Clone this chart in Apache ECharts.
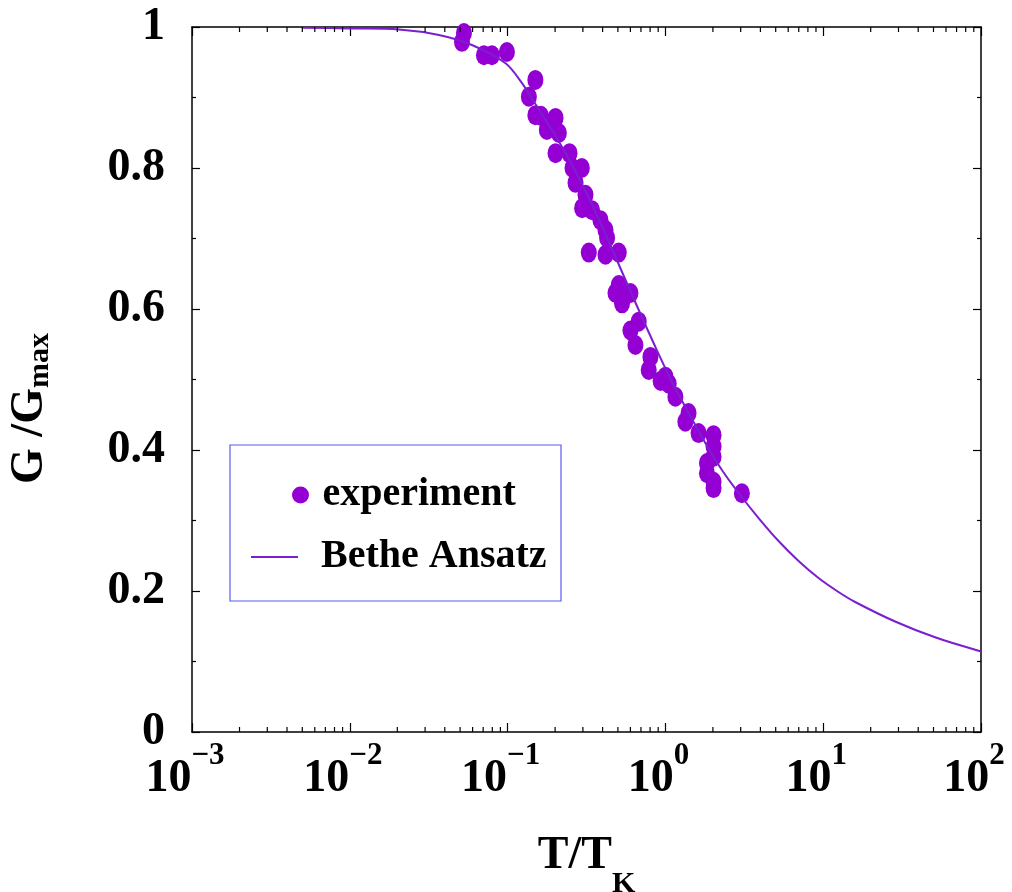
<!DOCTYPE html>
<html>
<head>
<meta charset="utf-8">
<script src="https://cdn.jsdelivr.net/npm/echarts@6/dist/echarts.min.js"></script>
<style>
html,body{margin:0;padding:0;background:#fff;}
#chart{width:1012px;height:892px;}
</style>
</head>
<body>
<div id="chart"></div>
<script>
// experimental points: [T/T_K, G/G_max]
const experimentT = [0.0529,0.0514,0.0708,0.0796,0.0990,0.150,0.1364,0.150,0.1626,0.2013,0.1773,0.2112,0.2013,0.2468,0.2578,0.2954,0.2694,0.3116,0.2967,0.3430,0.3878,0.4172,0.4270,0.3270,0.4172,0.5062,0.5062,0.4827,0.6005,0.5312,0.6776,0.6005,0.6457,0.8038,0.7840,1.0,0.933,1.05,1.157,1.402,1.338,1.622,2.019,2.019,2.019,1.834,1.834,2.019,2.019,3.053];
const experimentG = [0.9915,0.979,0.960,0.960,0.9645,0.925,0.901,0.875,0.874,0.871,0.854,0.8496,0.821,0.821,0.800,0.800,0.779,0.762,0.743,0.740,0.726,0.712,0.701,0.680,0.677,0.680,0.634,0.6227,0.6227,0.608,0.582,0.5695,0.549,0.532,0.5135,0.504,0.498,0.494,0.4756,0.4525,0.440,0.424,0.421,0.405,0.3905,0.3816,0.367,0.355,0.346,0.3386];
// Bethe Ansatz curve
const betheT = [0.005,0.0099,0.0205,0.0367,0.0594,0.0971,0.1237,0.1578,0.2013,0.2564,0.3270,0.4172,0.5312,0.6776,0.8643,1.101,1.404,1.791,2.281,2.911,3.895,5.213,6.98,9.34,12.50,15.94,28.56,51.16,100];
const betheG = [0.999,0.998,0.9965,0.9887,0.9745,0.9485,0.920,0.883,0.8454,0.8043,0.7574,0.7064,0.6525,0.5986,0.5461,0.4965,0.4525,0.4099,0.3716,0.3390,0.3035,0.2709,0.2426,0.2184,0.1986,0.1844,0.1567,0.1343,0.1142];
// minor tick positions for the log axis
const minorTickT = [];
[-3,-2,-1,0,1].forEach(d => { for (let k = 2; k <= 9; k++) minorTickT.push(+(k * Math.pow(10, d)).toPrecision(3)); });

const FONT = '"Liberation Serif","Times New Roman",serif';
const chart = echarts.init(document.getElementById('chart'));

const xCommon = {
  type: 'log', logBase: 10, min: 0.001, max: 100, splitNumber: 5,
  axisLine: {show: true, onZero: false, lineStyle: {color: '#000', width: 1.5}},
  axisTick: {show: true, inside: true, length: 9, lineStyle: {color: '#000', width: 1.2}},
  minorTick: {show: false},
  splitLine: {show: false}
};
const yCommon = {
  type: 'value', min: 0, max: 1, interval: 0.2,
  axisLine: {show: true, lineStyle: {color: '#000', width: 1.5}},
  axisTick: {show: true, inside: true, length: 8, lineStyle: {color: '#000', width: 1.2}},
  minorTick: {show: true, splitNumber: 2, length: 4, lineStyle: {color: '#000', width: 1.2}},
  splitLine: {show: false}
};

const option = {
  backgroundColor: '#fff',
  animation: false,
  grid: {left: 192, right: 31, top: 27, bottom: 160, containLabel: false, outerBoundsMode: 'none'},
  xAxis: [
    Object.assign({}, xCommon, {
      position: 'bottom',
      name: '{b|T/T}{k|K}',
      nameLocation: 'middle',
      nameGap: 101,
      nameTextStyle: {
        rich: {
          b: {fontFamily: FONT, fontWeight: 'bold', fontSize: 46, lineHeight: 46, verticalAlign: 'top', color: '#000'},
          k: {fontFamily: FONT, fontWeight: 'bold', fontSize: 30, lineHeight: 66, verticalAlign: 'bottom', color: '#000'}
        }
      },
      axisLabel: {
        margin: 8,
        padding: [0, 14, 0, 0],
        formatter: function (v) {
          const e = Math.round(Math.log10(v));
          return '{b|10}{s|' + (e < 0 ? '\u2212' : '') + Math.abs(e) + '}';
        },
        rich: {
          b: {fontFamily: FONT, fontWeight: 'bold', fontSize: 46, lineHeight: 62, verticalAlign: 'bottom', color: '#000'},
          s: {fontFamily: FONT, fontWeight: 'bold', fontSize: 31, lineHeight: 31, verticalAlign: 'top', color: '#000'}
        }
      }
    }),
    Object.assign({}, xCommon, {position: 'top', axisLabel: {show: false}})
  ],
  yAxis: [
    Object.assign({}, yCommon, {
      position: 'left',
      name: '{b|G /G}{s|max}',
      nameLocation: 'middle',
      nameGap: 137,
      nameRotate: 90,
      nameTextStyle: {
        padding: [0, 58, 0, 0],
        rich: {
          b: {fontFamily: FONT, fontWeight: 'bold', fontSize: 46, lineHeight: 46, verticalAlign: 'top', color: '#000'},
          s: {fontFamily: FONT, fontWeight: 'bold', fontSize: 30, lineHeight: 48, verticalAlign: 'bottom', color: '#000'}
        }
      },
      axisLabel: {
        margin: 27,
        color: '#000', fontFamily: FONT, fontWeight: 'bold', fontSize: 46
      }
    }),
    Object.assign({}, yCommon, {position: 'right', axisLabel: {show: false}})
  ],
  legend: [
    {
      data: [{name: 'experiment', icon: 'circle'}],
      left: 287, top: 470,
      itemWidth: 30, itemHeight: 17,
      textStyle: {fontFamily: FONT, fontWeight: 'bold', fontSize: 40, lineHeight: 40, color: '#000', padding: [0, 0, 0, 2]},
      selectedMode: false
    },
    {
      data: [{name: 'Bethe Ansatz', icon: 'rect'}],
      left: 246, top: 532,
      itemWidth: 47, itemHeight: 2,
      itemStyle: {color: '#7a1fd0'},
      textStyle: {fontFamily: FONT, fontWeight: 'bold', fontSize: 40, lineHeight: 40, color: '#000', padding: [0, 0, 0, 18]},
      selectedMode: false
    }
  ],
  graphic: [
    {type: 'rect', shape: {x: 230, y: 445, width: 331, height: 156}, style: {fill: 'none', stroke: '#5a5aee', lineWidth: 1.2}, z: 10}
  ],
  series: [
    {
      name: 'Bethe Ansatz', type: 'line', smooth: 0.3, symbol: 'none',
      data: betheT.map((t, i) => [t, betheG[i]]),
      lineStyle: {color: '#7a1fd0', width: 2},
      itemStyle: {color: '#7a1fd0'},
      z: 3
    },
    {
      name: 'experiment', type: 'scatter', symbol: 'circle', symbolSize: [16, 20],
      data: experimentT.map((t, i) => [t, experimentG[i]]),
      itemStyle: {color: '#9400d3', opacity: 1},
      z: 2
    },
    {
      name: 'minorTicks', type: 'custom', silent: true,
      data: minorTickT.map(t => [t, 0]),
      renderItem: function (params, api) {
        const b = api.coord([api.value(0), 0]);
        const t = api.coord([api.value(0), 1]);
        return {
          type: 'group',
          children: [
            {type: 'line', shape: {x1: b[0], y1: b[1], x2: b[0], y2: b[1] - 5}, style: {stroke: '#000', lineWidth: 1.2}},
            {type: 'line', shape: {x1: t[0], y1: t[1], x2: t[0], y2: t[1] + 5}, style: {stroke: '#000', lineWidth: 1.2}}
          ]
        };
      },
      z: 5
    }
  ]
};
chart.setOption(option);
</script>
</body>
</html>
